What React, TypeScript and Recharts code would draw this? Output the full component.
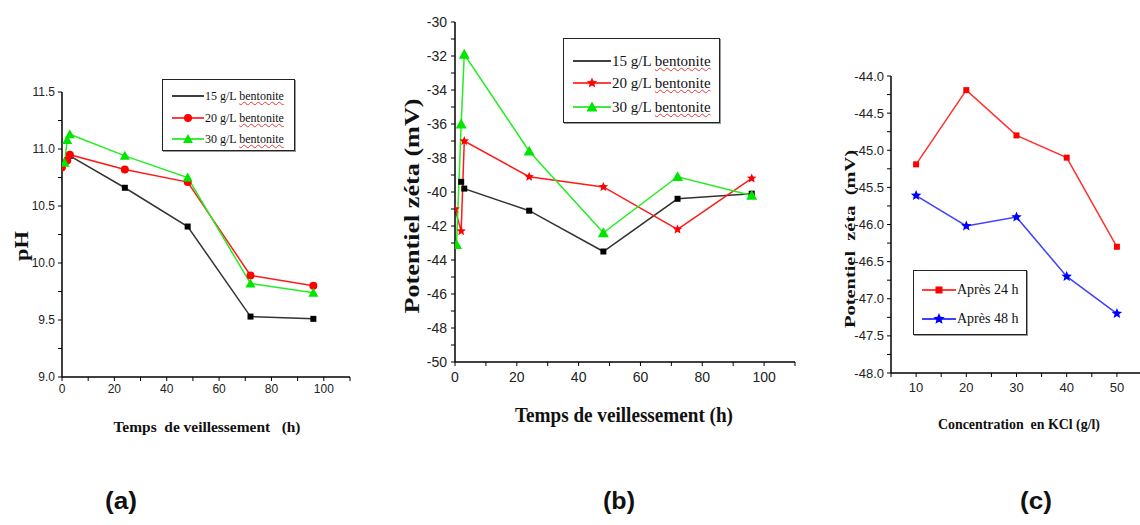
import React from 'react';
import { LineChart, Line, XAxis, YAxis } from 'recharts';

// (a) pH en fonction du temps de veillessement
const phHours15 = [3, 24, 48, 72, 96];
const ph15 = [10.94, 10.66, 10.32, 9.53, 9.51];
const phHours20 = [0, 2, 3, 24, 48, 72, 96];
const ph20 = [10.84, 10.9, 10.95, 10.82, 10.71, 9.89, 9.8];
const phHours30 = [1, 2, 3, 24, 48, 72, 96];
const ph30 = [10.88, 11.08, 11.13, 10.94, 10.75, 9.82, 9.74];

// (b) potentiel zeta en fonction du temps
const zetaHours15 = [2, 3, 24, 48, 72, 96];
const zeta15 = [-39.4, -39.8, -41.1, -43.5, -40.4, -40.1];
const zetaHours20 = [0, 2, 3, 24, 48, 72, 96];
const zeta20 = [-41.0, -42.3, -37.0, -39.1, -39.7, -42.2, -39.2];
const zetaHours30 = [0.5, 2, 3, 24, 48, 72, 96];
const zeta30 = [-43.1, -36.0, -31.9, -37.6, -42.4, -39.1, -40.2];

// (c) potentiel zeta en fonction de KCl
const kcl = [10, 20, 30, 40, 50];
const zeta24h = [-45.19, -44.19, -44.8, -45.1, -46.3];
const zeta48h = [-45.61, -46.02, -45.9, -46.7, -47.2];

// ticks
const hourTicks = [0, 10, 20, 30, 40, 50, 60, 70, 80, 90, 100, 110];
const phTicks = [9, 9.25, 9.5, 9.75, 10, 10.25, 10.5, 10.75, 11, 11.25, 11.5];
const zetaTicks = [-50, -49, -48, -47, -46, -45, -44, -43, -42, -41, -40, -39, -38, -37, -36, -35, -34, -33, -32, -31, -30];
const kclTicks = [5, 10, 15, 20, 25, 30, 35, 40, 45, 50, 55];
const zetaKclTicks = [-48, -47.75, -47.5, -47.25, -47, -46.75, -46.5, -46.25, -46, -45.75, -45.5, -45.25, -45, -44.75, -44.5, -44.25, -44];

const pts = (xs: number[], ys: number[]) => xs.map((x, i) => ({ x, y: ys[i] }));

const SERIF = '"Liberation Serif", "Times New Roman", serif';
const NARROW = '"Liberation Sans Narrow", "Liberation Sans", Arial, sans-serif';
const SANS = '"Liberation Sans", Arial, sans-serif';

type Kind = 'square' | 'circle' | 'triangle' | 'star' | 'none';

function Marker({ kind, cx, cy, size, color }: { kind: Kind; cx: number; cy: number; size: number; color: string }) {
  const h = size / 2;
  if (kind === 'square') return <rect x={cx - h} y={cy - h} width={size} height={size} fill={color} />;
  if (kind === 'circle') return <circle cx={cx} cy={cy} r={h} fill={color} />;
  if (kind === 'triangle')
    return <polygon points={`${cx},${cy - h} ${cx + h},${cy + h * 0.8} ${cx - h},${cy + h * 0.8}`} fill={color} />;
  if (kind === 'star') {
    const p: string[] = [];
    for (let i = 0; i < 10; i++) {
      const a = ((-90 + i * 36) * Math.PI) / 180;
      const r = i % 2 ? h * 0.45 : h;
      p.push(`${cx + r * Math.cos(a)},${cy + r * Math.sin(a)}`);
    }
    return <polygon points={p.join(' ')} fill={color} />;
  }
  return null;
}

const dotOf = (kind: Kind, size: number, color: string) => (p: any) =>
  <Marker key={`m${p.index}`} kind={kind} cx={p.cx} cy={p.cy} size={size} color={color} />;

const xTick = (isMajor: (v: number) => boolean, fmt: (v: number) => string, fontSize: number, family: string) => (p: any) => {
  const v = p.payload.value;
  if (!isMajor(v)) return <g />;
  return (
    <text x={p.x} y={p.y} dy="0.75em" textAnchor="middle" fontSize={fontSize} fontFamily={family} fill="#222">
      {fmt(v)}
    </text>
  );
};

const yTick = (isMajor: (v: number) => boolean, fmt: (v: number) => string, fontSize: number, family: string) => (p: any) => {
  const v = p.payload.value;
  if (!isMajor(v)) return <g />;
  return (
    <text x={p.x} y={p.y} dy="0.35em" textAnchor="end" fontSize={fontSize} fontFamily={family} fill="#222">
      {fmt(v)}
    </text>
  );
};

const axisLine = { stroke: '#000', strokeWidth: 1.5 };
const tickLine = { stroke: '#000', strokeWidth: 1 };

interface LegendItem {
  label: string;
  color: string;
  kind: Kind;
  size: number;
}

function LegendBox({ left, top, width, height, rows, items, sampleX, sampleW, fontSize, squiggle }: {
  left: number; top: number; width: number; height: number; rows: number[]; items: LegendItem[];
  sampleX: number; sampleW: number; fontSize: number; squiggle: boolean;
}) {
  return (
    <div
      style={{
        position: 'absolute', left, top, width, height, boxSizing: 'border-box',
        border: '1.5px solid #222', boxShadow: '1px 1px 0 #999', background: '#fff',
      }}
    >
      {items.map((it, i) => {
        const words = it.label.split(' ');
        const last = words.pop();
        return (
          <div key={it.label} style={{ position: 'absolute', left: sampleX, top: rows[i] - 8, height: 16, display: 'flex', alignItems: 'center', whiteSpace: 'nowrap' }}>
            <svg width={sampleW} height={16} style={{ display: 'block' }}>
              <line x1={0} y1={8} x2={sampleW} y2={8} stroke={it.color} strokeWidth={1.5} />
              <Marker kind={it.kind} cx={sampleW / 2} cy={8} size={it.size} color={it.color} />
            </svg>
            <span style={{ fontFamily: SERIF, fontSize, color: '#111', marginLeft: 1 }}>
              {words.join(' ')}{' '}
              <span style={squiggle ? { textDecoration: 'underline wavy #e33', textDecorationThickness: 1 } : undefined}>{last}</span>
            </span>
          </div>
        );
      })}
    </div>
  );
}

function Title({ x, y, text, size, length, rotate = false, family = SERIF }: {
  x: number; y: number; text: string; size: number; length: number; rotate?: boolean; family?: string;
}) {
  return (
    <text
      x={x} y={y} textAnchor="middle" dominantBaseline="central" fontFamily={family} fontWeight="bold"
      fontSize={size} fill="#111" textLength={length} lengthAdjust="spacingAndGlyphs"
      transform={rotate ? `rotate(-90 ${x} ${y})` : undefined} style={{ whiteSpace: 'pre' }}
    >
      {text}
    </text>
  );
}

export default function App() {
  return (
    <div style={{ position: 'absolute', left: 0, top: 0, width: 1140, height: 525, overflow: 'hidden', background: '#fff' }}>
      {/* (a) */}
      <div style={{ position: 'absolute', left: 0, top: 0 }}>
        <LineChart width={380} height={440} margin={{ top: 92, right: 30, left: 0, bottom: 33 }}>
          <XAxis dataKey="x" type="number" domain={[0, 110]} ticks={hourTicks} interval={0} allowDataOverflow
            height={30} tickSize={4} tickMargin={3} axisLine={axisLine} tickLine={tickLine}
            tick={xTick((v) => v % 20 === 0, (v) => String(v), 12, NARROW)} />
          <YAxis dataKey="y" type="number" domain={[9, 11.5]} ticks={phTicks} interval={0} allowDataOverflow
            width={62} tickSize={4} tickMargin={3} axisLine={axisLine} tickLine={tickLine}
            tick={yTick((v) => Number.isInteger(v * 2), (v) => v.toFixed(1), 12, NARROW)} />
          <Line data={pts(phHours15, ph15)} dataKey="y" stroke="#333" strokeWidth={1.5} isAnimationActive={false}
            dot={dotOf('square', 6, '#000')} activeDot={false} />
          <Line data={pts(phHours20, ph20)} dataKey="y" stroke="#ff1a1a" strokeWidth={1.5} isAnimationActive={false}
            dot={dotOf('circle', 8, '#ff0000')} activeDot={false} />
          <Line data={pts(phHours30, ph30)} dataKey="y" stroke="#22ee22" strokeWidth={1.5} isAnimationActive={false}
            dot={dotOf('triangle', 10, '#00e600')} activeDot={false} />
        </LineChart>
      </div>

      {/* (b) */}
      <div style={{ position: 'absolute', left: 390, top: 0 }}>
        <LineChart width={420} height={420} margin={{ top: 22, right: 15, left: 0, bottom: 28 }}>
          <XAxis dataKey="x" type="number" domain={[0, 110]} ticks={hourTicks} interval={0} allowDataOverflow
            height={30} tickSize={4} tickMargin={5} axisLine={axisLine} tickLine={tickLine}
            tick={xTick((v) => v % 20 === 0, (v) => String(v), 14, NARROW)} />
          <YAxis dataKey="y" type="number" domain={[-50, -30]} ticks={zetaTicks} interval={0} allowDataOverflow
            width={65} tickSize={4} tickMargin={4} axisLine={axisLine} tickLine={tickLine}
            tick={yTick((v) => v % 2 === 0, (v) => String(v), 14, NARROW)} />
          <Line data={pts(zetaHours15, zeta15)} dataKey="y" stroke="#333" strokeWidth={1.5} isAnimationActive={false}
            dot={dotOf('square', 6, '#000')} activeDot={false} />
          <Line data={pts(zetaHours20, zeta20)} dataKey="y" stroke="#ff1a1a" strokeWidth={1.5} isAnimationActive={false}
            dot={dotOf('star', 10, '#ff0000')} activeDot={false} />
          <Line data={pts(zetaHours30, zeta30)} dataKey="y" stroke="#22ee22" strokeWidth={1.5} isAnimationActive={false}
            dot={dotOf('triangle', 11, '#00e600')} activeDot={false} />
        </LineChart>
      </div>

      {/* (c) */}
      <div style={{ position: 'absolute', left: 830, top: 0 }}>
        <LineChart width={312} height={440} margin={{ top: 76, right: 0, left: 0, bottom: 37 }}>
          <XAxis dataKey="x" type="number" domain={[5, 55]} ticks={kclTicks} interval={0} allowDataOverflow
            height={30} tickSize={4} tickMargin={5} axisLine={axisLine} tickLine={tickLine}
            tick={xTick((v) => v % 10 === 0, (v) => String(v), 13, SANS)} />
          <YAxis dataKey="y" type="number" domain={[-48, -44]} ticks={zetaKclTicks} interval={0} allowDataOverflow
            width={61} tickSize={4} tickMargin={3} axisLine={axisLine} tickLine={tickLine}
            tick={yTick((v) => Number.isInteger(v * 2), (v) => v.toFixed(1), 13, SANS)} />
          <Line data={pts(kcl, zeta24h)} dataKey="y" stroke="#ff3030" strokeWidth={1.5} isAnimationActive={false}
            dot={dotOf('square', 6, '#ff0000')} activeDot={false} />
          <Line data={pts(kcl, zeta48h)} dataKey="y" stroke="#4040ff" strokeWidth={1.5} isAnimationActive={false}
            dot={dotOf('star', 11, '#0000ff')} activeDot={false} />
        </LineChart>
      </div>

      <LegendBox left={162} top={79} width={133} height={72} rows={[16, 38, 59]} sampleX={9} sampleW={32} fontSize={12} squiggle
        items={[
          { label: '15 g/L bentonite', color: '#000', kind: 'none', size: 0 },
          { label: '20 g/L bentonite', color: '#ff0000', kind: 'circle', size: 8 },
          { label: '30 g/L bentonite', color: '#00e600', kind: 'triangle', size: 10 },
        ]} />
      <LegendBox left={563} top={38} width={157} height={85} rows={[22, 44, 68]} sampleX={9} sampleW={38} fontSize={15} squiggle
        items={[
          { label: '15 g/L bentonite', color: '#000', kind: 'none', size: 0 },
          { label: '20 g/L bentonite', color: '#ff0000', kind: 'star', size: 11 },
          { label: '30 g/L bentonite', color: '#00e600', kind: 'triangle', size: 11 },
        ]} />
      <LegendBox left={913} top={270} width={114} height={65} rows={[19, 48]} sampleX={8} sampleW={34} fontSize={14} squiggle={false}
        items={[
          { label: 'Après 24 h', color: '#ff0000', kind: 'square', size: 7 },
          { label: 'Après 48 h', color: '#0000ff', kind: 'star', size: 12 },
        ]} />

      <svg width={1140} height={525} style={{ position: 'absolute', left: 0, top: 0, pointerEvents: 'none' }}>
        <Title x={207} y={427} text="Temps  de veillessement   (h)" size={14} length={187} />
        <Title x={22} y={246} text="pH" size={18} length={30} rotate />
        <Title x={624} y={414} text="Temps de veillessement (h)" size={22} length={218} />
        <Title x={412} y={206} text="Potentiel zéta (mV)" size={21} length={215} rotate />
        <Title x={1019} y={424} text="Concentration  en KCl (g/l)" size={14} length={162} />
        <Title x={850} y={239} text="Potentiel  zéta  (mV)" size={14} length={178} rotate />
        <Title x={121} y={500} text="(a)" size={24} length={32} family={SANS} />
        <Title x={619} y={500} text="(b)" size={24} length={32} family={SANS} />
        <Title x={1036} y={500} text="(c)" size={24} length={32} family={SANS} />
      </svg>
    </div>
  );
}
